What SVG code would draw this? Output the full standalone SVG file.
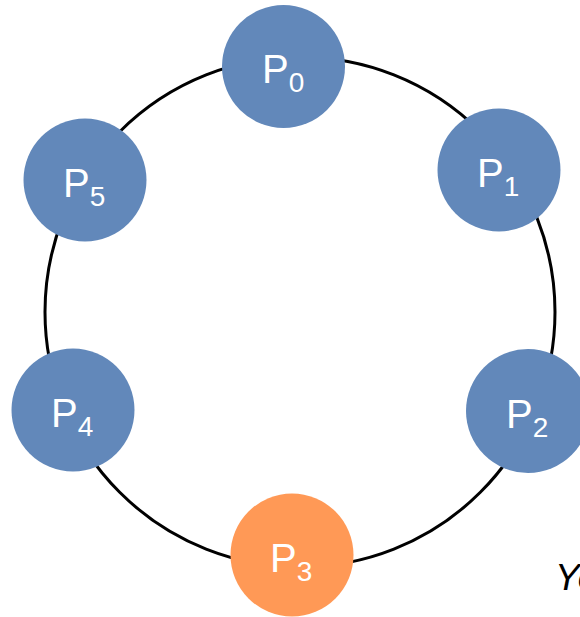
<svg xmlns="http://www.w3.org/2000/svg" width="580" height="617" viewBox="0 0 580 617">
<style>
.n{fill:#6288BA}
.o{fill:#FF9956}
.t{font-family:"Liberation Sans",Arial,sans-serif;fill:#fff;font-size:40px}
.s{font-size:28px}
</style>
<rect width="580" height="617" fill="#fff"/>
<g id="connectors">
<circle cx="300" cy="312" r="255" fill="none" stroke="#000" stroke-width="3"/>
</g>
<g id="P0"><circle class="n" cx="283.5" cy="66.5" r="61.5"/><text class="t" x="262" y="83">P<tspan class="s" dy="9">0</tspan></text></g>
<g id="P1"><circle class="n" cx="499" cy="170" r="61.5"/><text class="t" x="477" y="187">P<tspan class="s" dy="9">1</tspan></text></g>
<g id="P2"><circle class="n" cx="528" cy="411" r="62"/><text class="t" x="506" y="428">P<tspan class="s" dy="9">2</tspan></text></g>
<g id="P3"><circle class="o" cx="292" cy="555" r="61.5"/><text class="t" x="270" y="572">P<tspan class="s" dy="9">3</tspan></text></g>
<g id="P4"><circle class="n" cx="73" cy="410" r="61.5"/><text class="t" x="51" y="427">P<tspan class="s" dy="9">4</tspan></text></g>
<g id="P5"><circle class="n" cx="85" cy="180" r="61.5"/><text class="t" x="63" y="197">P<tspan class="s" dy="9">5</tspan></text></g>
<text x="555" y="590" font-family="Liberation Sans,Arial,sans-serif" font-style="italic" font-size="37" fill="#000">Yo</text>
</svg>
